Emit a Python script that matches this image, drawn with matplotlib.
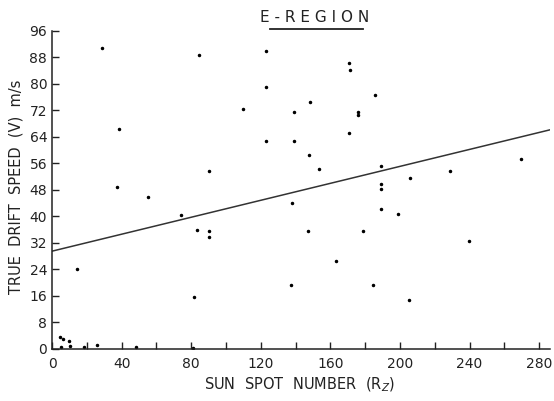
import numpy as np
import matplotlib.pyplot as plt
from matplotlib.lines import Line2D

# sun spot number (R_Z) and true drift speed (m/s)
ssn = [28.7, 84.5, 123, 123, 109.5, 38.5, 123, 90.5, 37.5, 55.4,
       170.7, 171.3, 185.6, 148, 139, 176, 176, 170.7, 139, 147.7,
       153.4, 189, 269.5, 228.7, 205.7, 189, 189,
       74, 83.1, 90, 90, 14.2, 81.6,
       138, 189, 199, 147, 179, 239.6, 163, 137.4, 184.5, 205,
       4.8, 6, 10, 10.5, 5.3, 18.4, 26, 48, 81]
speed = [90.9, 88.8, 90, 79, 72.5, 66.5, 62.8, 53.8, 48.9, 45.9,
         86.4, 84.3, 76.7, 74.6, 71.6, 71.6, 70.7, 65.3, 62.8, 58.6,
         54.4, 55.3, 57.4, 53.8, 51.6, 49.8, 48.3,
         40.5, 36, 35.6, 33.8, 24.2, 15.7,
         44, 42.2, 40.8, 35.7, 35.7, 32.6, 26.6, 19.3, 19.3, 14.8,
         3.6, 3.0, 2.4, 1.0, 0.6, 0.6, 1.2, 0.6, 0.2]

# fitted line
fit_x = [0, 286]
fit_y = [29.5, 66.1]

xticks = np.arange(0, 281, 20)
xlabels = [str(v) if v % 40 == 0 else '' for v in xticks]
yticks = np.arange(0, 97, 8)

fig = plt.figure(figsize=(5.54, 4.01), dpi=100)
ax = fig.add_axes([0.094, 0.13, 0.898, 0.793])

ax.plot(ssn, speed, 'k.', markersize=3)
ax.plot(fit_x, fit_y, color='#333333', lw=1.1)

ax.set_xlim(0, 286)
ax.set_ylim(0, 96)
ax.set_xticks(xticks)
ax.set_xticklabels(xlabels)
ax.set_yticks(yticks)
ax.tick_params(direction='in', length=5, width=1, labelsize=10, colors='#222222')
ax.tick_params(axis='x', pad=6)
ax.spines['top'].set_visible(False)
ax.spines['right'].set_visible(False)
for s in ['left', 'bottom']:
    ax.spines[s].set_linewidth(1.1)
    ax.spines[s].set_color('#222222')

fig.text(0.54, 0.04, 'SUN  SPOT  NUMBER  (R$_Z$)', ha='center', va='center',
         fontsize=10.5, color='#222222')
fig.text(0.028, 0.534, 'TRUE  DRIFT  SPEED  (V)  m/s', rotation=90,
         va='center', ha='center', fontsize=10.5, color='#222222')
fig.text(0.568, 0.957, 'E - R E G I O N', ha='center', va='center',
         fontsize=11, color='#222222')
fig.add_artist(Line2D([0.487, 0.655], [0.928, 0.928], color='#222222', lw=1.3,
                      transform=fig.transFigure))

plt.savefig('out.png', dpi=100)
